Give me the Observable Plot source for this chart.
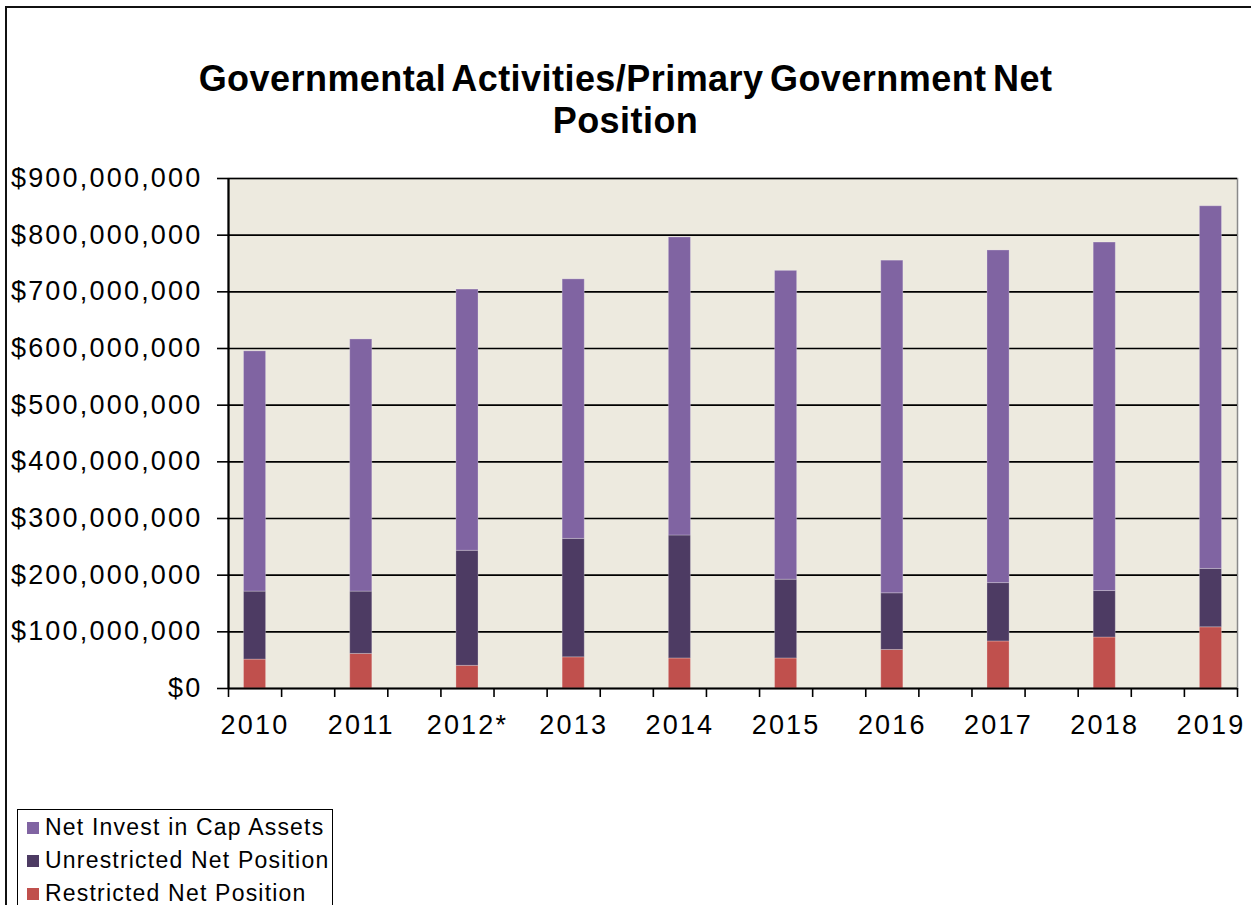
<!DOCTYPE html>
<html>
<head>
<meta charset="utf-8">
<script src="https://cdn.jsdelivr.net/npm/d3@7"></script>
<script src="https://cdn.jsdelivr.net/npm/@observablehq/plot@0.6"></script>
<style>
  html, body { margin: 0; padding: 0; background: #fff; width: 1251px; height: 905px; overflow: hidden; position: relative; font-family: "Liberation Sans", Arial, sans-serif; }
  #frame { position: absolute; left: 5px; top: 6px; width: 1400px; height: 1000px; border-left: 2px solid #111; border-top: 2px solid #111; box-sizing: border-box; }
  #title { position: absolute; left: 0; top: 58px; width: 1251px; text-align: center; font-weight: bold; font-size: 36px; line-height: 42px; letter-spacing: 0.45px; word-spacing: -4px; color: #000; }
  #chart { position: absolute; left: 0; top: 150px; }
  #chart svg { overflow: visible; }
  #chart g[aria-label="y-axis tick label"] text, #chart g[aria-label="x-axis tick label"] text { letter-spacing: 2.2px; }
  #legend { position: absolute; left: 17px; top: 809px; width: 316px; height: 200px; border: 1.5px solid #000; box-sizing: border-box; background: #fff; }
  .item { position: absolute; left: 9px; height: 33px; display: flex; align-items: center; font-size: 23px; letter-spacing: 1.2px; color: #000; white-space: nowrap; }
  .sw { width: 12px; height: 12px; margin-right: 6px; }
</style>
</head>
<body>
<div id="frame"></div>
<div id="title">Governmental Activities/Primary Government Net<br>Position</div>
<div id="chart"></div>
<div id="legend"></div>
<script>
// Categories (fiscal years)
const years = ["2010", "2011", "2012*", "2013", "2014", "2015", "2016", "2017", "2018", "2019"];
// Series values (dollars)
const restricted   = [51e6, 61e6, 40e6, 55e6, 53e6, 53e6, 68e6, 83e6, 90e6, 108e6];
const unrestricted = [120e6, 110e6, 203e6, 209e6, 217e6, 139e6, 100e6, 103e6, 82e6, 103e6];
const netInvest    = [424e6, 445e6, 461e6, 458e6, 526e6, 545e6, 587e6, 587e6, 615e6, 640e6];
// Series names and colours
const seriesNames  = ["Restricted Net Position", "Unrestricted Net Position", "Net Invest in Cap Assets"];
const seriesColors = ["#C0504D", "#4D3B63", "#8064A2"];
const seriesValues = [restricted, unrestricted, netInvest];
// Y tick values
const yTicks = d3.range(0, 900e6 + 1, 100e6);
// Legend order (top to bottom)
const legendOrder = ["Net Invest in Cap Assets", "Unrestricted Net Position", "Restricted Net Position"];

// Each year occupies every other slot of 19 equal slots (Excel-style layout)
const nSlots = 2 * years.length - 1;
const data = [];
years.forEach((yr, i) => {
  seriesNames.forEach((s, k) => {
    data.push({slot: 2 * i, year: yr, series: s, value: seriesValues[k][i]});
  });
});

const chart = Plot.plot({
  width: 1251,
  height: 598,
  marginLeft: 228,
  marginRight: 14,
  marginTop: 28,
  marginBottom: 60,
  style: {background: "transparent", fontFamily: "Liberation Sans, Arial, sans-serif", color: "#000"},
  x: {type: "linear", domain: [0, nSlots], axis: null, label: null},
  y: {domain: [0, 900e6], axis: null, label: null},
  color: {domain: seriesNames, range: seriesColors},
  marks: [
    Plot.frame({fill: "#EDEADF", stroke: "#8a8a8a", strokeWidth: 1.5}),
    Plot.gridY(yTicks.slice(1), {stroke: "#000", strokeOpacity: 1, strokeWidth: 1.6}),
    Plot.rectY(data, {
      x1: "slot",
      x2: d => d.slot + 1,
      y: "value",
      fill: "series",
      insetLeft: 15.5,
      insetRight: 15.5,
      stroke: "#ffffff",
      strokeOpacity: 0.25,
      strokeWidth: 1
    }),
    Plot.axisY(yTicks, {
      label: null,
      tickSize: 11,
      tickPadding: 15,
      tickFormat: d => "$" + d3.format(",")(d),
      fontSize: 27,
      stroke: "#000",
      strokeWidth: 1.6
    }),
    Plot.axisX(d3.range(0, nSlots + 1), {
      label: null,
      tickSize: 9,
      tickFormat: () => "",
      stroke: "#000",
      strokeWidth: 1.6
    }),
    Plot.axisX(years.map((y, i) => 2 * i + 0.5), {
      label: null,
      tickSize: 0,
      tickPadding: 26,
      tickFormat: d => years[Math.round((d - 0.5) / 2)],
      fontSize: 27
    }),
    Plot.ruleX([0], {stroke: "#000", strokeWidth: 2.2}),
    Plot.ruleY([0], {stroke: "#000", strokeWidth: 2.2})
  ]
});
document.getElementById("chart").appendChild(chart);

// Legend
const legend = document.getElementById("legend");
legendOrder.forEach((name, j) => {
  const k = seriesNames.indexOf(name);
  const item = document.createElement("div");
  item.className = "item";
  item.style.top = (1 + 33 * j) + "px";
  const sw = document.createElement("span");
  sw.className = "sw";
  sw.style.background = seriesColors[k];
  const t = document.createElement("span");
  t.textContent = name;
  item.appendChild(sw);
  item.appendChild(t);
  legend.appendChild(item);
});
</script>
</body>
</html>
